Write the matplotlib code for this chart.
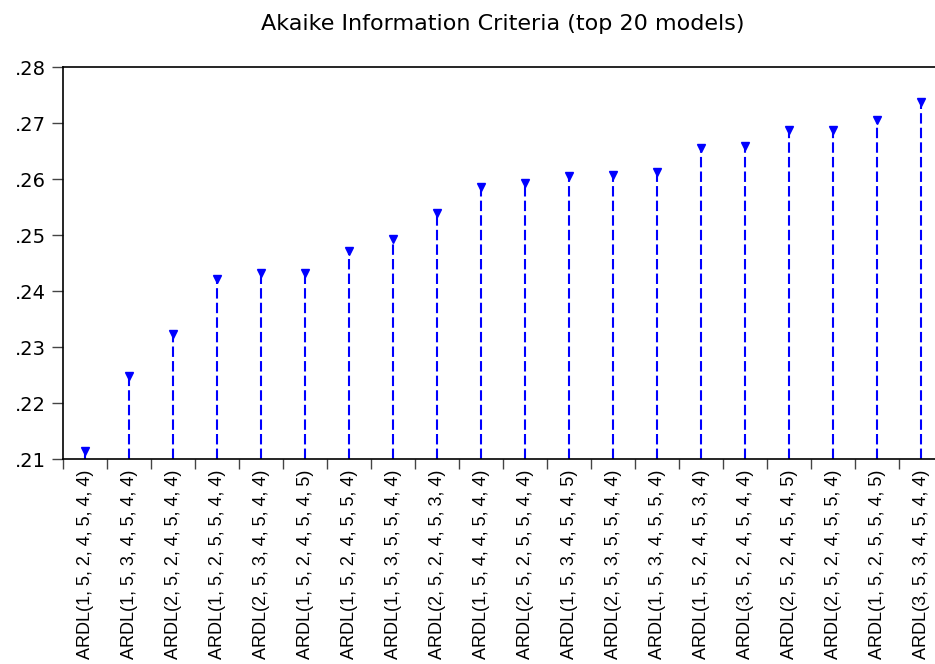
import matplotlib
matplotlib.use("Agg")
import matplotlib.pyplot as plt
from matplotlib.ticker import FuncFormatter, FixedLocator

plt.rcParams['font.family'] = ['Liberation Sans', 'DejaVu Sans']

models = [
    "ARDL(1, 5, 2, 4, 5, 4, 4)",
    "ARDL(1, 5, 3, 4, 5, 4, 4)",
    "ARDL(2, 5, 2, 4, 5, 4, 4)",
    "ARDL(1, 5, 2, 5, 5, 4, 4)",
    "ARDL(2, 5, 3, 4, 5, 4, 4)",
    "ARDL(1, 5, 2, 4, 5, 4, 5)",
    "ARDL(1, 5, 2, 4, 5, 5, 4)",
    "ARDL(1, 5, 3, 5, 5, 4, 4)",
    "ARDL(2, 5, 2, 4, 5, 3, 4)",
    "ARDL(1, 5, 4, 4, 5, 4, 4)",
    "ARDL(2, 5, 2, 5, 5, 4, 4)",
    "ARDL(1, 5, 3, 4, 5, 4, 5)",
    "ARDL(2, 5, 3, 5, 5, 4, 4)",
    "ARDL(1, 5, 3, 4, 5, 5, 4)",
    "ARDL(1, 5, 2, 4, 5, 3, 4)",
    "ARDL(3, 5, 2, 4, 5, 4, 4)",
    "ARDL(2, 5, 2, 4, 5, 4, 5)",
    "ARDL(2, 5, 2, 4, 5, 5, 4)",
    "ARDL(1, 5, 2, 5, 5, 4, 5)",
    "ARDL(3, 5, 3, 4, 5, 4, 4)",
]
aic = [0.2115, 0.2249, 0.2324, 0.2421, 0.2433, 0.2433, 0.2472, 0.2493,
       0.2540, 0.2585, 0.2593, 0.2606, 0.2607, 0.2612, 0.2656, 0.2659,
       0.2688, 0.2688, 0.2706, 0.2738]
yticks = [0.21, 0.22, 0.23, 0.24, 0.25, 0.26, 0.27, 0.28]
title = "Akaike Information Criteria (top 20 models)"

W, H = 935, 664
fig = plt.figure(figsize=(W / 100, H / 100), dpi=100)
left, right, top, bottom = 63, 943, 67, 459
ax = fig.add_axes([left / W, 1 - bottom / H, (right - left) / W, (bottom - top) / H])

x = list(range(len(models)))
ybase = 0.21
ax.vlines(x, ybase, aic, colors='#0000ff', linewidth=1.5,
          linestyles=[(0, (5, 2))])
ax.plot(x, aic, linestyle='none', marker='v', color='#0000ff',
        markersize=5.5, clip_on=False)

ax.set_xlim(-0.5, len(models) - 0.5)
ax.set_ylim(0.21, 0.28)
ax.set_xticks(x)
ax.set_xticklabels(models, rotation=90, fontsize=13,
                   fontfamily=['Liberation Sans', 'DejaVu Sans'])
ax.xaxis.set_minor_locator(FixedLocator([i - 0.5 for i in range(len(models) + 1)]))
ax.tick_params(axis='x', which='major', length=0, pad=8)
ax.tick_params(axis='x', which='minor', length=7, width=1, direction='out', color='#444444')
ax.set_yticks(yticks)
ax.yaxis.set_major_formatter(FuncFormatter(lambda v, p: ('%.2f' % v).lstrip('0')))
ax.tick_params(axis='y', length=8, width=1, direction='out', labelsize=14,
               color='#444444', pad=4, labelfontfamily='DejaVu Sans')

for s in ['left', 'top', 'bottom', 'right']:
    ax.spines[s].set_linewidth(1.2)
    ax.spines[s].set_color('black')

fig.text((left + right) / 2 / W, 1 - 24 / H, title, ha='center', va='center',
         fontsize=16, family=['DejaVu Sans'])

fig.savefig("out.png", dpi=100)
